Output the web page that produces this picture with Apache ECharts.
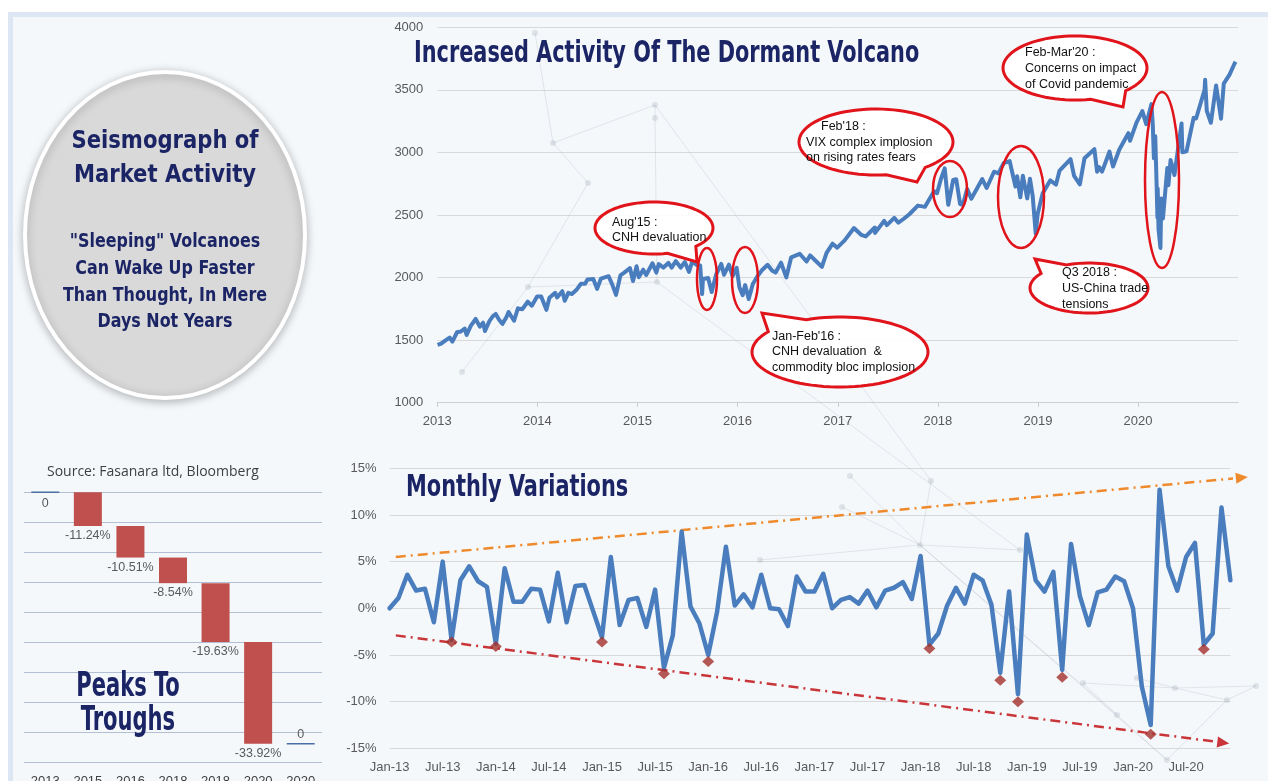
<!DOCTYPE html>
<html><head><meta charset="utf-8">
<script src="https://cdn.jsdelivr.net/npm/echarts@6/dist/echarts.min.js"></script>
<style>
html,body{margin:0;padding:0;background:#fff;}
#frame{position:absolute;left:8px;top:12px;width:1260px;height:769px;background:#f5f8fb;border-left:5px solid #dde7f3;border-top:5px solid #dde7f3;box-sizing:border-box;}
#c{position:absolute;left:0;top:0;width:1268px;height:781px;}
</style>
</head><body><div id="frame"></div><div id="c"></div>
<script>
// ---------- DATA ----------
const spxDates = ['2013-01-02','2013-01-15','2013-01-31','2013-02-15','2013-02-25','2013-03-14','2013-03-28','2013-04-11','2013-04-18','2013-05-03','2013-05-21','2013-06-05','2013-06-17','2013-06-24','2013-07-10','2013-07-23','2013-08-02','2013-08-15','2013-08-27','2013-09-10','2013-09-18','2013-10-08','2013-10-22','2013-11-07','2013-11-27','2013-12-12','2013-12-31',
'2014-01-15','2014-02-03','2014-02-14','2014-03-07','2014-03-14','2014-04-02','2014-04-11','2014-04-24','2014-05-07','2014-05-23','2014-06-09','2014-06-24','2014-07-03','2014-07-24','2014-08-07','2014-08-21','2014-09-18','2014-10-01','2014-10-15','2014-10-31','2014-11-14','2014-12-05','2014-12-16','2014-12-29',
'2015-01-06','2015-01-22','2015-02-02','2015-02-25','2015-03-11','2015-03-20','2015-04-06','2015-04-24','2015-05-06','2015-05-21','2015-06-08','2015-06-23','2015-07-08','2015-07-20','2015-08-05','2015-08-18','2015-08-25','2015-08-28','2015-09-16','2015-09-29','2015-10-15','2015-11-03','2015-11-13','2015-12-01','2015-12-14','2015-12-29',
'2016-01-08','2016-01-20','2016-01-29','2016-02-11','2016-02-26','2016-03-15','2016-03-31','2016-04-20','2016-05-06','2016-05-19','2016-06-08','2016-06-27','2016-07-15','2016-08-15','2016-09-09','2016-09-22','2016-10-13','2016-11-04','2016-11-21','2016-12-13','2016-12-30',
'2017-01-26','2017-03-01','2017-03-27','2017-04-13','2017-05-16','2017-05-17','2017-06-19','2017-06-29','2017-07-26','2017-08-10','2017-08-31','2017-09-20','2017-10-20','2017-11-15','2017-12-18','2017-12-29',
'2018-01-12','2018-01-26','2018-02-05','2018-02-08','2018-02-26','2018-03-09','2018-03-23','2018-04-02','2018-04-18','2018-05-03','2018-06-12','2018-06-28','2018-07-25','2018-08-10','2018-08-29','2018-09-20','2018-10-11','2018-10-17','2018-10-29','2018-11-07','2018-11-23','2018-12-03','2018-12-13','2018-12-24','2018-12-31',
'2019-01-18','2019-02-15','2019-03-08','2019-03-21','2019-04-30','2019-05-13','2019-06-03','2019-06-20','2019-07-26','2019-08-05','2019-08-12','2019-08-23','2019-09-19','2019-10-02','2019-10-25','2019-11-27','2019-12-03','2019-12-27',
'2020-01-17','2020-01-31','2020-02-19','2020-02-24','2020-02-28','2020-03-04','2020-03-09','2020-03-12','2020-03-13','2020-03-16','2020-03-23','2020-03-26','2020-04-01','2020-04-17','2020-04-21','2020-04-29','2020-05-13','2020-06-08','2020-06-11','2020-06-26','2020-07-22','2020-07-31','2020-08-31','2020-09-02','2020-09-08','2020-09-23','2020-10-12','2020-10-30','2020-11-09','2020-11-30','2020-12-18','2020-12-22'];
const spxValues = [1462,1472,1498,1520,1488,1563,1569,1593,1541,1614,1669,1608,1639,1573,1652,1692,1709,1661,1630,1683,1725,1655,1754,1747,1807,1775,1848,
1848,1742,1838,1878,1841,1891,1815,1878,1868,1900,1951,1950,1985,1988,1910,1992,2011,1946,1862,2018,2039,2075,1972,2090,
2003,2063,2021,2114,2040,2108,2080,2117,2080,2131,2080,2124,2046,2128,2100,2096,1868,1989,1996,1884,2023,2109,2023,2103,2012,2078,
1922,1859,1940,1829,1948,2015,2060,2102,2057,2040,2119,2001,2162,2190,2128,2177,2132,2085,2198,2271,2239,
2297,2396,2342,2329,2400,2357,2453,2419,2477,2438,2472,2508,2575,2565,2690,2674,
2786,2873,2649,2581,2780,2786,2588,2582,2708,2630,2787,2716,2846,2833,2914,2931,2728,2809,2641,2814,2633,2790,2651,2351,2507,
2671,2776,2743,2855,2946,2812,2744,2954,3026,2845,2883,2847,3006,2887,3023,3154,3093,3240,
3330,3226,3386,3226,2954,3130,2747,2481,2711,2386,2237,2631,2471,2875,2737,2940,2820,3232,3002,3009,3276,3271,3500,3580,3332,3237,3535,3270,3550,3622,3709,3725];

const monthNames = ['Jan','Feb','Mar','Apr','May','Jun','Jul','Aug','Sep','Oct','Nov','Dec'];
const monthYears = ['13','14','15','16','17','18','19','20'];
const monthCats = [];
monthYears.forEach(y => monthNames.forEach(m => monthCats.push(m + '-' + y)));

const monthlyVar = [0.0,1.1,3.6,1.9,2.1,-1.5,5.0,-3.4,3.0,4.5,2.9,2.3,
-3.8,4.3,0.7,0.7,2.1,2.0,-1.4,3.8,-1.5,2.4,2.5,-0.3,
-3.1,5.5,-1.8,0.9,1.1,-2.0,2.0,-6.4,-2.9,8.2,0.2,-1.6,
-5.0,-0.4,6.6,0.3,1.5,0.1,3.6,0.0,-0.1,-1.9,3.4,1.8,
1.8,3.7,0.0,0.9,1.2,0.5,1.9,0.1,1.9,2.2,2.8,1.0,
5.6,-3.9,-2.7,0.3,2.2,0.5,3.6,3.0,0.4,-6.9,1.8,-9.2,
7.9,3.0,1.8,3.9,-6.6,6.9,1.3,-1.8,1.7,2.0,3.4,2.9,
0.0,-8.4,-12.5,12.7,4.5,1.9,5.5,7.0,-3.9,-2.7,10.8,3.0];

const troughIdx  = [7, 12, 24, 31, 36, 61, 69, 71, 76, 86, 92];
const troughVals = [-3.6, -4.1, -3.6, -7.0, -5.7, -4.3, -7.7, -10.0, -7.4, -13.5, -4.4];

const trendUpper = [[0.7, 5.5], [96.3, 14.0]];
const trendLower = [[0.7, -2.9], [94.2, -14.4]];

const wfCats   = ['2013','2015','2016','2018','2018','2020','2020'];
const wfDeltas = [0, -11.24, -10.51, -8.54, -19.63, -33.92, 0];
const wfLabels = ['0','-11.24%','-10.51%','-8.54%','-19.63%','-33.92%','0'];

const spxTicks = {min:1000, max:4000, step:500};
const varTicks = {min:-15, max:15, step:5};

// ---------- derived ----------
const spxData = spxDates.map((d,i)=>[d, spxValues[i]]);
const wfBase = [];
let run = 0;
wfDeltas.forEach(d=>{ wfBase.push(run); run += d; });

const NAVY = '#1b2465';
const DISP = '"DejaVu Sans Condensed","DejaVu Sans",sans-serif';
const BODY = '"Liberation Sans","Open Sans",sans-serif';
const RED = '#e0141a';

function bubblePts(cx, cy, rx, ry, tx, ty){
  const ang = Math.atan2((ty-cy)/ry, (tx-cx)/rx);
  const gap = 0.28, N = 80, pts = [];
  for (let k=0;k<=N;k++){ const a = ang+gap+(2*Math.PI-2*gap)*k/N; pts.push([cx+rx*Math.cos(a), cy+ry*Math.sin(a)]); }
  pts.push([tx,ty]);
  return pts;
}
function bubble(cx,cy,rx,ry,tx,ty){
  return {type:'polygon', z:50, shape:{points:bubblePts(cx,cy,rx,ry,tx,ty)}, style:{fill:'rgba(255,255,255,0.92)', stroke:RED, lineWidth:3}};
}
function ell(cx,cy,rx,ry){
  return {type:'ellipse', z:50, shape:{cx,cy,rx,ry}, style:{fill:'none', stroke:RED, lineWidth:2.5}};
}
function txt(x,y,t,font,fill,align,sx){
  return {type:'text', z:60, x, y, scaleX:sx||1, style:{text:t, font, fill, align:align||'left', verticalAlign:'middle'}};
}
const small = '12.5px ' + BODY;

// faint decorative network in the background
const netNodes = [[535,33],[553,143],[588,183],[655,105],[655,118],[528,287],[462,372],[657,282],[842,507],[850,476],[920,545],[931,481],[1020,550],[1083,683],[1117,715],[1137,678],[1167,760],[1175,688],[1227,700],[1256,686],[760,560]];
const netEdges = [[0,1],[1,2],[1,3],[3,4],[4,7],[2,5],[5,6],[5,7],[7,12],[8,10],[9,10],[10,11],[10,12],[10,14],[10,16],[13,17],[17,19],[14,16],[16,18],[15,17],[17,18],[18,19],[13,14],[20,10],[3,11]];
const netGraphics = netEdges.map(([a,b])=>({type:'line', z:1, silent:true, shape:{x1:netNodes[a][0],y1:netNodes[a][1],x2:netNodes[b][0],y2:netNodes[b][1]}, style:{stroke:'rgba(150,160,175,0.22)', lineWidth:1}}))
  .concat(netNodes.map(p=>({type:'circle', z:1, silent:true, shape:{cx:p[0],cy:p[1],r:3}, style:{fill:'rgba(150,160,175,0.25)'}})));

const chart = echarts.init(document.getElementById('c'), null, {renderer:'canvas'});
chart.setOption({
  backgroundColor:'transparent',
  animation:false,
  grid:[
    {left:437.3, top:27.3, width:801, height:375.4, outerBoundsMode:'none', containLabel:false},
    {left:389.6, top:468.3, width:840.75, height:280, outerBoundsMode:'none', containLabel:false},
    {left:24, top:492.3, width:298, height:270, outerBoundsMode:'none', containLabel:false}
  ],
  xAxis:[
    {type:'time', gridIndex:0, min:'2013-01-01', max:'2021-01-01', splitNumber:8,
     minInterval:365*24*3600*1000,
     axisLine:{lineStyle:{color:'#d0d0d0'}}, axisTick:{show:true, length:4, lineStyle:{color:'#c8c8c8'}},
     axisLabel:{color:'#595959', fontSize:13, fontFamily:BODY, margin:12, showMaxLabel:false, hideOverlap:false,
       formatter:v=>String(new Date(v).getFullYear())},
     splitLine:{show:false}},
    {type:'category', gridIndex:1, data:monthCats, boundaryGap:false,
     axisLine:{show:false}, axisTick:{show:false},
     axisLabel:{color:'#595959', fontSize:13, fontFamily:BODY, interval:5, margin:13, hideOverlap:false},
     splitLine:{show:false}},
    {type:'value', gridIndex:1, min:0, max:monthCats.length-1, show:false},
    {type:'category', gridIndex:2, data:wfCats,
     axisLine:{show:false}, axisTick:{show:false},
     axisLabel:{color:'#404040', fontSize:13, fontFamily:BODY, margin:13, interval:0}}
  ],
  yAxis:[
    {type:'value', gridIndex:0, min:spxTicks.min, max:spxTicks.max, interval:spxTicks.step,
     axisLine:{show:false}, axisTick:{show:false},
     axisLabel:{color:'#595959', fontSize:13, fontFamily:BODY, margin:14, formatter:v=>String(v)},
     splitLine:{lineStyle:{color:'#d9d9d9', width:1}}},
    {type:'value', gridIndex:1, min:varTicks.min, max:varTicks.max, interval:varTicks.step,
     axisLine:{show:false}, axisTick:{show:false},
     axisLabel:{color:'#595959', fontSize:13, fontFamily:BODY, margin:13, formatter:'{value}%'},
     splitLine:{lineStyle:{color:'#d9d9d9', width:1}}},
    {type:'value', gridIndex:2, min:-90, max:0, interval:10,
     axisLine:{show:false}, axisTick:{show:false}, axisLabel:{show:false},
     splitLine:{lineStyle:{color:'#b3bfd4', width:1}}}
  ],
  series:[
    {type:'line', xAxisIndex:0, yAxisIndex:0, data:spxData, showSymbol:false, symbol:'none',
     lineStyle:{color:'#4a7dbd', width:4, join:'round'}, z:5},
    {type:'line', xAxisIndex:1, yAxisIndex:1, data:monthlyVar, showSymbol:false, symbol:'none',
     lineStyle:{color:'#4a7dbd', width:4.5, join:'round', cap:'round'}, z:5},
    {type:'line', xAxisIndex:2, yAxisIndex:1, clip:false, z:4,
     data:[{value:trendUpper[0], symbol:'none'}, {value:trendUpper[1], symbol:'triangle', symbolSize:[11,12], symbolRotate:-84.7}],
     showSymbol:true, symbol:'none',
     itemStyle:{color:'#ef8a2c'},
     lineStyle:{color:'#ef8a2c', width:2.5, type:[10,5,2,5]}},
    {type:'line', xAxisIndex:2, yAxisIndex:1, clip:false, z:4,
     data:[{value:trendLower[0], symbol:'none'}, {value:trendLower[1], symbol:'triangle', symbolSize:[11,12], symbolRotate:-97.4}],
     showSymbol:true, symbol:'none',
     itemStyle:{color:'#c9363a'},
     lineStyle:{color:'#c9363a', width:2.5, type:[10,5,2,5]}},
    {type:'scatter', xAxisIndex:2, yAxisIndex:1, z:6,
     data:troughIdx.map((i,k)=>[i, troughVals[k]]),
     symbol:'diamond', symbolSize:[12,11], itemStyle:{color:'#a3302b'}},
    {type:'bar', xAxisIndex:3, yAxisIndex:2, stack:'wf', stackStrategy:'all', barWidth:28,
     data:wfBase, itemStyle:{color:'transparent'}, silent:true},
    {type:'bar', xAxisIndex:3, yAxisIndex:2, stack:'wf', stackStrategy:'all', barWidth:28,
     data:wfDeltas.map((d,i)=> d===0
        ? {value:d, itemStyle:{color:'transparent', borderColor:'#4a6ea6', borderWidth:1.5},
           label:{position: i===0 ? 'bottom' : 'top', distance: i===0 ? 4 : 2}}
        : {value:d}),
     itemStyle:{color:'#c0504d'},
     label:{show:true, position:'bottom', distance:3, color:'#595959', fontSize:12.5, fontFamily:BODY,
       formatter:p=>wfLabels[p.dataIndex]}}
  ],
  graphic: netGraphics.concat([
    // left circle
    {type:'ellipse', z:40, shape:{cx:165, cy:235, rx:140, ry:163},
     style:{fill:'#d9d9d9', stroke:'#ffffff', lineWidth:4, shadowBlur:10, shadowColor:'rgba(0,0,0,0.25)', shadowOffsetY:2}},
    txt(165,141,'Seismograph of','bold 25px '+DISP,NAVY,'center',0.94),
    txt(165,175,'Market Activity','bold 25px '+DISP,NAVY,'center',0.94),
    txt(165,242,'"Sleeping" Volcanoes','bold 19px '+DISP,NAVY,'center',0.93),
    txt(165,269,'Can Wake Up Faster','bold 19px '+DISP,NAVY,'center',0.93),
    txt(165,296,'Than Thought, In Mere','bold 19px '+DISP,NAVY,'center',0.93),
    txt(165,322,'Days Not Years','bold 19px '+DISP,NAVY,'center',0.93),
    // titles
    txt(414,54,'Increased Activity Of The Dormant Volcano','bold 30px '+DISP,NAVY,'left',0.772),
    txt(406,488,'Monthly Variations','bold 30px '+DISP,NAVY,'left',0.774),
    txt(128,687,'Peaks To','bold 33px '+DISP,NAVY,'center',0.71),
    txt(128,721,'Troughs','bold 33px '+DISP,NAVY,'center',0.71),
    txt(47,472,'Source: Fasanara ltd, Bloomberg','14px "Open Sans",sans-serif','#404040','left'),
    // annotation ellipses
    ell(707,279,10,31), ell(745,280,13,33), ell(950,189,17,28), ell(1021,197,23,51), ell(1162,180,17,88),
    // speech bubbles
    bubble(654,228,59,26,697,262),
    txt(612,223,"Aug'15 :",small,'#111','left'), txt(612,238,'CNH devaluation',small,'#111','left'),
    bubble(840,352,88,35,762,313),
    txt(772,337,"Jan-Feb'16 :",small,'#111','left'), txt(772,352,'CNH devaluation  &',small,'#111','left'), txt(772,368,'commodity bloc implosion',small,'#111','left'),
    bubble(876,142,77,33,917,182),
    txt(821,127,"Feb'18 :",small,'#111','left'), txt(806,143,'VIX complex implosion',small,'#111','left'), txt(806,158,'on rising rates fears',small,'#111','left'),
    bubble(1089,288,59,25,1035,259),
    txt(1062,273,'Q3 2018 :',small,'#111','left'), txt(1062,289,'US-China trade',small,'#111','left'), txt(1062,305,'tensions',small,'#111','left'),
    bubble(1075,68,72,32,1123,107),
    txt(1025,53,"Feb-Mar'20 :",small,'#111','left'), txt(1025,69,'Concerns on impact',small,'#111','left'), txt(1025,85,'of Covid pandemic',small,'#111','left')
  ])
});
</script>
</body></html>
